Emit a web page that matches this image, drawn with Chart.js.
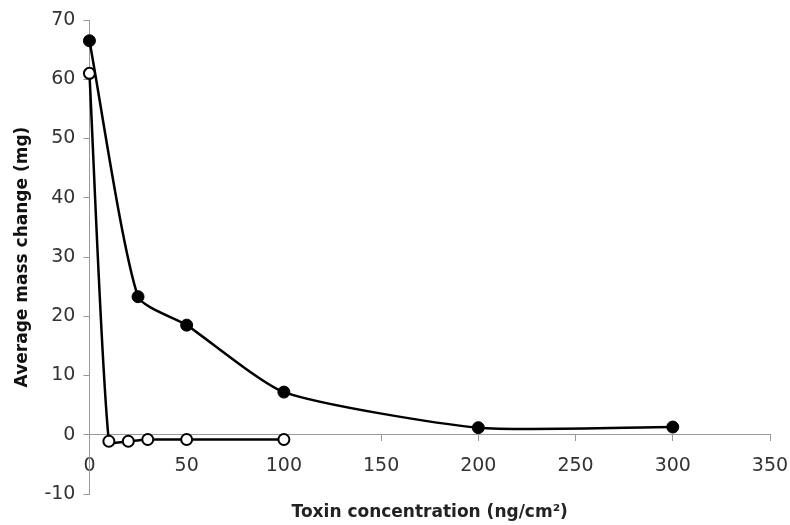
<!DOCTYPE html>
<html>
<head>
<meta charset="utf-8">
<script src="https://cdn.jsdelivr.net/npm/chart.js@4"></script>
<style>
html,body{margin:0;padding:0;background:#fff;}
#wrap{width:790px;height:525px;position:relative;}
</style>
</head>
<body>
<div id="wrap"><canvas id="c" width="790" height="525"></canvas></div>
<script>
const filledX = [0, 25, 50, 100, 200, 300];
const filledY = [66.5, 23.3, 18.5, 7.2, 1.2, 1.3];
const openX = [0, 10, 20, 30, 50, 100];
const openY = [61, -1.1, -1.1, -0.8, -0.8, -0.8];
const xTicks = [0, 50, 100, 150, 200, 250, 300, 350];
const yTicks = [-10, 0, 10, 20, 30, 40, 50, 60, 70];
const xTitle = 'Toxin concentration (ng/cm\u00B2)';
const yTitle = 'Average mass change (mg)';

const toPts = (xs, ys) => xs.map((x, i) => ({x: x, y: ys[i]}));

new Chart(document.getElementById('c'), {
  type: 'scatter',
  data: {
    datasets: [
      {
        data: toPts(filledX, filledY),
        showLine: true,
        borderColor: '#000',
        borderWidth: 2.5,
        backgroundColor: '#000',
        pointBackgroundColor: '#000',
        pointBorderColor: '#000',
        pointRadius: 6,
        pointBorderWidth: 1,
        tension: 0.2,
        clip: false
      },
      {
        data: toPts(openX, openY),
        showLine: true,
        borderColor: '#000',
        borderWidth: 2.5,
        backgroundColor: '#fff',
        pointBackgroundColor: '#fff',
        pointBorderColor: '#000',
        pointRadius: 5.5,
        pointBorderWidth: 2,
        tension: 0.2,
        clip: false
      }
    ]
  },
  options: {
    responsive: false,
    animation: false,
    layout: {padding: {top: 20, right: 20, bottom: 31, left: 8}},
    plugins: {legend: {display: false}, tooltip: {enabled: false}},
    scales: {
      x: {
        type: 'linear',
        position: {y: 0},
        min: 0, max: 350,
        afterBuildTicks: (s) => { s.ticks = xTicks.map(v => ({value: v})); },
        afterFit: (s) => { s.paddingRight = 0; s.paddingLeft = 0; },
        grid: {drawOnChartArea: false, drawTicks: true, tickLength: 6, color: '#999', tickColor: '#999'},
        border: {display: true, color: '#999', width: 1},
        ticks: {color: '#333', font: {family: 'DejaVu Sans', size: 19}, padding: 14, maxRotation: 0},
        title: {display: true, text: xTitle, color: '#222', font: {family: 'DejaVu Sans', size: 17, weight: 'bold'}, padding: {top: 11}}
      },
      y: {
        type: 'linear',
        min: -10, max: 70,
        afterBuildTicks: (s) => { s.ticks = yTicks.map(v => ({value: v})); },
        grid: {drawOnChartArea: false, drawTicks: true, tickLength: 6, color: '#999', tickColor: '#999'},
        border: {display: true, color: '#999', width: 1},
        ticks: {color: '#333', font: {family: 'DejaVu Sans', size: 19}, padding: 8},
        title: {display: true, text: yTitle, color: '#111', font: {family: 'DejaVu Sans', size: 17, weight: 'bold'}, padding: {top: 4, bottom: 4}}
      }
    }
  }
});
</script>
</body>
</html>
